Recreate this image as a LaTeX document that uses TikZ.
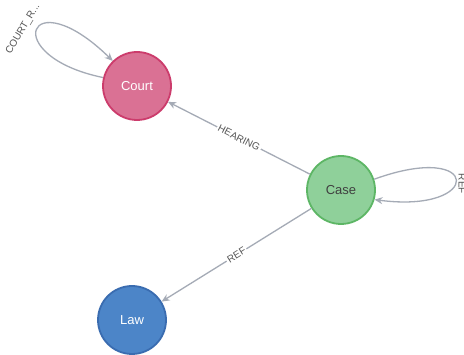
\documentclass[tikz,border=0pt]{standalone}
\usepackage{fontspec}
\setmainfont{Liberation Sans}
\usetikzlibrary{arrows.meta}
\definecolor{courtfill}{HTML}{DA7194}
\definecolor{courtdraw}{HTML}{CC3C6C}
\definecolor{casefill}{HTML}{8FD09A}
\definecolor{casedraw}{HTML}{5DB665}
\definecolor{lawfill}{HTML}{4C85C8}
\definecolor{lawdraw}{HTML}{3A6CB0}
\definecolor{edgecol}{HTML}{A5ABB6}
\definecolor{labcol}{HTML}{555555}
\tikzset{
  graphnode/.style={circle, minimum size=68pt, inner sep=0pt, line width=1.8pt, font=\fontsize{13}{15}\selectfont},
  rel/.style={draw=edgecol, line width=1.3pt, -{Stealth[length=8pt,width=7pt]}},
  rellabel/.style={fill=white, text=labcol, inner sep=1.5pt, font=\fontsize{10}{12}\selectfont},
  freelabel/.style={text=labcol, inner sep=0pt, font=\fontsize{10}{12}\selectfont}
}
\begin{document}
\begin{tikzpicture}[x=1pt,y=-1pt]
\useasboundingbox[fill=white] (0,0) rectangle (464,355);
\node[graphnode, fill=courtfill, draw=courtdraw, text=white] (court) at (137,86) {Court};
\node[graphnode, fill=casefill, draw=casedraw, text=black!75] (case) at (341,190) {Case};
\node[graphnode, fill=lawfill, draw=lawdraw, text=white] (law) at (132,320) {Law};
\draw[rel] (case) -- (court) node[rellabel, pos=0.5, sloped] (hearing) {HEARING};
\draw[rel] (case) -- (law) node[rellabel, pos=0.5, sloped] (ref) {REF};
\draw[rel] (court.166) .. controls (-2,56) and (28,-22) .. (court.134);
\draw[rel] (case.18) .. controls (482,140) and (484,214) .. (case.-16);
\node[freelabel, rotate=59] (courtr) at (23,29) {COURT\_R...};
\node[freelabel, rotate=-90] (caseref) at (462,184) {REF};
\end{tikzpicture}
\end{document}
